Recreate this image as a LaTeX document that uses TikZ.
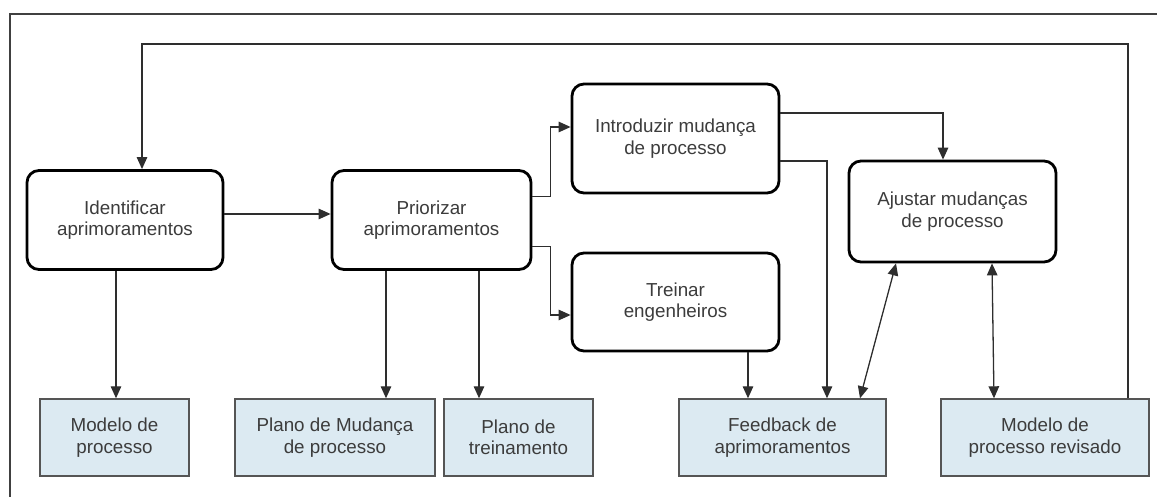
\documentclass[tikz,border=0pt]{standalone}
\usepackage{fontspec}
\setmainfont{Liberation Sans}
\usetikzlibrary{arrows.meta}
\definecolor{txt}{HTML}{3C3C3C}
\definecolor{linec}{HTML}{2E2E2E}
\definecolor{docfill}{HTML}{DCEAF2}
\definecolor{docline}{HTML}{555555}
\begin{document}
\begin{tikzpicture}[x=1pt,y=-1pt,
  every node/.style={font=\fontsize{18.8}{21.5}\selectfont, text=txt, align=center},
  procbox/.style={draw=black, line width=2.8pt, rounded corners=12pt, fill=white, inner sep=0pt},
  docbox/.style={draw=docline, line width=1.4pt, fill=docfill, inner sep=0pt, minimum height=77pt},
  conn/.style={draw=linec, line width=1.3pt},
  arr/.style={conn, -{Triangle[length=12pt,width=10.5pt]}},
  darr/.style={conn, {Triangle[length=12pt,width=10.5pt]}-{Triangle[length=12pt,width=10.5pt]}},
  frame/.style={draw=black!75, line width=1.3pt}]
\useasboundingbox (0,0) rectangle (1157,497);

% outer frame (open on the right and at the bottom)
\draw[frame] (10,497) -- (10,14) -- (1157,14);

% process steps
\node[procbox, minimum width=196pt, minimum height=99pt] (iden)  at (125,220)    {Identificar\\aprimoramentos};
\node[procbox, minimum width=199pt, minimum height=99pt] (prio)  at (431.5,220)  {Priorizar\\aprimoramentos};
\node[procbox, minimum width=207pt, minimum height=109pt] (intro) at (675.5,138.5) {Introduzir mudança\\de processo};
\node[procbox, minimum width=207pt, minimum height=98pt] (trein) at (675.5,302)  {Treinar\\engenheiros};
\node[procbox, minimum width=207pt, minimum height=101pt] (ajus) at (952.5,211.5) {Ajustar mudanças\\de processo};

% documents
\node[docbox, minimum width=149pt] (mod)    at (114.5,437.5) {Modelo de\\processo};
\node[docbox, minimum width=200pt] (plmud)  at (335,437.5)   {Plano de Mudança\\de processo};
\node[docbox, minimum width=149pt] (pltr)   at (518.5,437.5) {Plano de\\treinamento};
\node[docbox, minimum width=207pt] (feed)   at (782.5,437.5) {Feedback de\\aprimoramentos};
\node[docbox, minimum width=208pt] (modrev) at (1045,437.5)  {Modelo de\\processo revisado};

% helper points
\coordinate (looptop) at (0,44);
\coordinate (a1) at ([yshift=6pt]iden.east);
\coordinate (a2) at ([yshift=6pt]prio.west);
\coordinate (d1) at ([xshift=-9pt]iden.south);
\coordinate (d2) at ([xshift=-45.5pt]prio.south);
\coordinate (d3) at ([xshift=47.5pt]prio.south);
\coordinate (d4) at ([xshift=72.5pt]trein.south);
\coordinate (e1) at ([xshift=-56.5pt]ajus.south);
\coordinate (e2) at ([xshift=77.5pt]feed.north);
\coordinate (e3) at ([xshift=39.5pt]ajus.south);
\coordinate (e4) at ([xshift=-51pt]modrev.north);
\coordinate (r0) at ([xshift=83pt]modrev.north);
\coordinate (l0) at ([xshift=17pt]iden.north);

% flow between steps
\draw[arr] (a1) -- (a2);
\draw[arr] ([yshift=23.5pt]prio.east) -- ++(18,0) |- ([yshift=11.5pt]intro.west);
\draw[arr] ([yshift=-26.5pt]prio.east) -- ++(18,0) |- ([yshift=-13pt]trein.west);
\draw[arr] ([yshift=25.5pt]intro.east) -| ([xshift=-9.5pt]ajus.north);
\draw[arr] ([yshift=-22.5pt]intro.east) -| ([xshift=44.5pt]feed.north);

% outputs
\draw[arr] (d1) -- (d1 |- mod.north);
\draw[arr] (d2) -- (d2 |- plmud.north);
\draw[arr] (d3) -- (d3 |- pltr.north);
\draw[arr] (d4) -- (d4 |- feed.north);
\draw[darr] (e1) -- (e2);
\draw[darr] (e3) -- (e4);

% feedback loop to the start
\draw[arr] (r0) -- (r0 |- looptop) -- (l0 |- looptop) -- (l0);
\end{tikzpicture}
\end{document}
